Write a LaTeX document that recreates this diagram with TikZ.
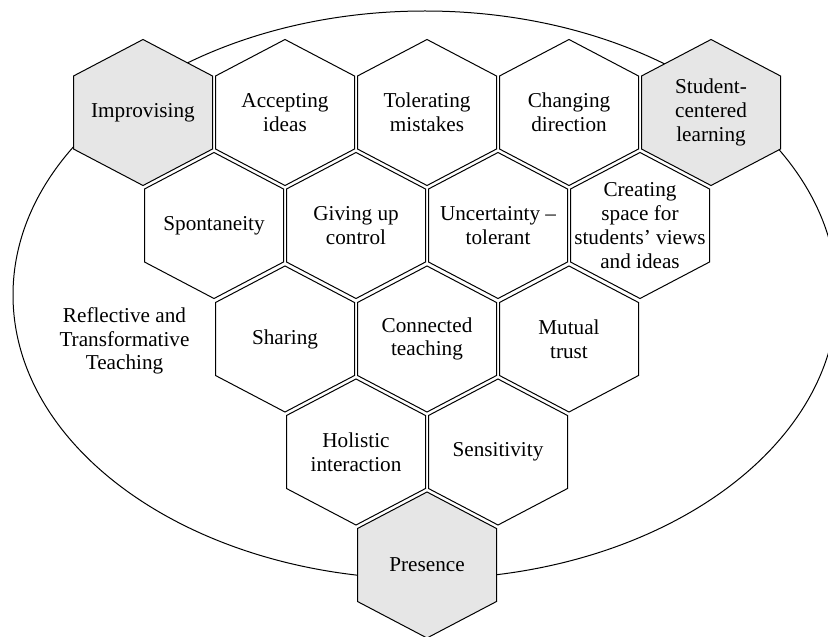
\documentclass[tikz,border=0pt]{standalone}
\usepackage{fontspec}
\setmainfont{Liberation Serif}
\definecolor{cellgrey}{RGB}{230,230,230}
\tikzset{
  hexcell/.pic={\path[pic actions] (0,-73) -- (69.5,-36.5) -- (69.5,36.5) -- (0,73) -- (-69.5,36.5) -- (-69.5,-36.5) -- cycle;},
  cellline/.style={draw, line width=0.5pt, fill=white},
  greycell/.style={cellline, fill=cellgrey},
  celltext/.style={align=center, inner sep=0pt, font=\fontsize{10.6}{11.9}\selectfont},
}
\begin{document}
\begin{tikzpicture}[x=0.5pt, y=-0.5pt]
\useasboundingbox (0,0) rectangle (828,636);
\clip (0,0) rectangle (828,636);
\draw[line width=0.5pt] (425,295) ellipse [x radius=412, y radius=284];
\node[celltext] (reflective) at (124.5,341){Reflective and\\Transformative\\Teaching};
% top row
\pic[greycell] at (143,112.5) {hexcell};
\node[celltext] (improvising) at (143,112.5){Improvising};
\pic[cellline] at (285,112.5) {hexcell};
\node[celltext] (accepting) at (285,112.5){Accepting\\ideas};
\pic[cellline] at (427,112.5) {hexcell};
\node[celltext] (tolerating) at (427,112.5){Tolerating\\mistakes};
\pic[cellline] at (569,112.5) {hexcell};
\node[celltext] (changing) at (569,112.5){Changing\\direction};
\pic[greycell] at (711,112.5) {hexcell};
\node[celltext] (studentcentered) at (711,112.5){Student-\\centered\\learning};
% second row
\pic[cellline] at (214,225.5) {hexcell};
\node[celltext] (spontaneity) at (214,225.5){Spontaneity};
\pic[cellline] at (356,225.5) {hexcell};
\node[celltext] (givingup) at (356,225.5){Giving up\\control};
\pic[cellline] at (498,225.5) {hexcell};
\node[celltext] (uncertainty) at (498,225.5){Uncertainty --\\tolerant};
\pic[cellline] at (640,225.5) {hexcell};
\node[celltext] (creatingspace) at (640,225.5){Creating\\space for\\students' views\\and ideas};
% third row
\pic[cellline] at (285,339) {hexcell};
\node[celltext] (sharing) at (285,339){Sharing};
\pic[cellline] at (427,339) {hexcell};
\node[celltext] (connected) at (427,339){Connected\\teaching};
\pic[cellline] at (569,339) {hexcell};
\node[celltext] (mutualtrust) at (569,339){Mutual\\trust};
% fourth row
\pic[cellline] at (356,452) {hexcell};
\node[celltext] (holistic) at (356,452){Holistic\\interaction};
\pic[cellline] at (498,452) {hexcell};
\node[celltext] (sensitivity) at (498,452){Sensitivity};
% bottom
\pic[greycell] at (427,565) {hexcell};
\node[celltext] (presence) at (427,565){Presence};
\end{tikzpicture}
\end{document}
